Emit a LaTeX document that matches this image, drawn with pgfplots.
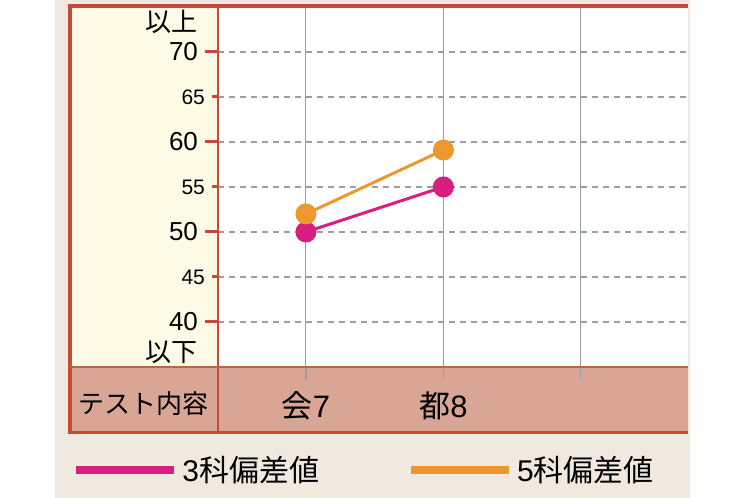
\documentclass[border=0pt]{standalone}
\usepackage{pgfplots}
\pgfplotsset{compat=1.18}
\usepackage{fontspec}
\setmainfont{Liberation Sans}
\newfontfamily\jp{Noto Sans CJK JP}

\definecolor{framered}{HTML}{C8483A}
\definecolor{rowline}{HTML}{B8683E}
\definecolor{rowfill}{HTML}{D9A696}
\definecolor{cream}{HTML}{FDFAE6}
\definecolor{paper}{HTML}{EFE9DF}
\definecolor{mag}{HTML}{D81E7E}
\definecolor{org}{HTML}{EC982E}
\definecolor{gridc}{HTML}{9A9EA6}

\begin{document}
\begin{tikzpicture}
% background panels, in pixels of the reference (y downwards)
\begin{scope}[x=0.5pt,y=-0.5pt]
\fill[white] (0,0) rectangle (740,498);
\fill[paper] (55,0) rectangle (690,498);
\fill[cream] (70,6) rectangle (218,367);
\fill[white] (218,6) rectangle (688,367);
\fill[rowfill] (70,367) rectangle (688,432);
\end{scope}

\begin{axis}[
    at={(109pt,-183.5pt)}, anchor=south west,
    scale only axis,
    width=235pt, height=180.5pt,
    xmin=-0.64, xmax=2.78,
    ymin=35, ymax=75.1,
    axis line style={draw=none},
    /pgf/number format/assume math mode=true,
    tick align=outside,
    xtick pos=bottom, ytick pos=left,
    xtick={0,1,2},
    xticklabels={{\jp 会}7,{\jp 都}8,{}},
    xticklabel style={anchor=center, yshift=-13pt,
        font=\fontsize{15.5}{15.5}\selectfont},
    x tick style={gridc, line width=0.6pt},
    ytick={40,50,60,70},
    yticklabel style={font=\fontsize{13}{13}\selectfont},
    y tick style={framered, line width=1.5pt},
    major tick length=6.5pt,
    minor ytick={45,55,65},
    minor tick length=3pt,
    extra y ticks={45,55,65},
    extra y tick labels={{\fontsize{10.5}{10.5}\selectfont 45},
        {\fontsize{10.5}{10.5}\selectfont 55},
        {\fontsize{10.5}{10.5}\selectfont 65}},
    extra y tick style={grid=none, y tick style={draw=none},
        yticklabel style={xshift=3.5pt}},
    xmajorgrids, ymajorgrids, yminorgrids,
    major x grid style={gridc, line width=0.5pt},
    major y grid style={gridc, line width=0.6pt, dash pattern=on 3pt off 2.5pt},
    minor y grid style={gridc, line width=0.6pt, dash pattern=on 3pt off 2.5pt},
    legend columns=2,
    legend style={at={(rel axis cs:-0.3106,-0.2853)}, anchor=west,
        draw=none, fill=none, inner sep=0pt,
        font=\fontsize{15}{15}\selectfont,
        /tikz/every even column/.append style={column sep=42pt}},
    legend image code/.code={\draw[#1, mark=none, line width=4pt] (0pt,0pt) -- (49pt,0pt);},
]
\addplot[color=mag, line width=1.5pt, mark=*, mark size=4.5pt,
    mark options={fill=mag, draw=mag}] coordinates {
    (0, 50)
    (1, 55)
};
\addlegendentry{3{\jp 科偏差値}}

\addplot[color=org, line width=1.5pt, mark=*, mark size=4.5pt,
    mark options={fill=org, draw=org}] coordinates {
    (0, 52)
    (1, 59.1)
};
\addlegendentry{5{\jp 科偏差値}}
\end{axis}

% frame and row captions
\begin{scope}[x=0.5pt,y=-0.5pt]
\draw[framered, line width=1.8pt] (688,6) -- (70,6) -- (70,432.5) -- (688,432.5);
\draw[framered, line width=1pt] (218,6) -- (218,432);
\draw[rowline, line width=1pt] (70,367) -- (688,367);
\node[font=\jp\fontsize{13}{13}\selectfont] at (143,404) {テスト内容};
\node[font=\jp\fontsize{13}{13}\selectfont, anchor=east] at (205,22) {以上};
\node[font=\jp\fontsize{13}{13}\selectfont, anchor=east] at (205,352) {以下};
\end{scope}
\end{tikzpicture}
\end{document}
